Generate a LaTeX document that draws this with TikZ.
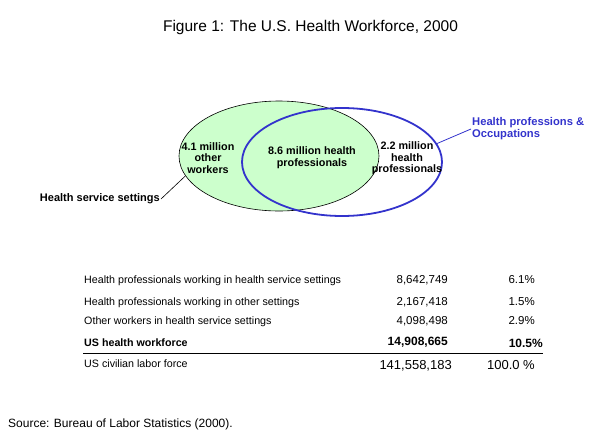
\documentclass[tikz,border=0pt]{standalone}
\usepackage{fontspec}
\setmainfont{Liberation Sans}
\usetikzlibrary{shapes.geometric}
\definecolor{setgreen}{HTML}{CCFFCC}
\definecolor{setblue}{HTML}{3333CC}

\begin{document}
\begin{tikzpicture}[x=1pt,y=-1pt,
  every node/.style={inner sep=1pt},
  settings/.style={ellipse,draw=black,line width=0.6pt,fill=setgreen,
    minimum width=200pt,minimum height=110pt,inner sep=0pt},
  occups/.style={ellipse,draw=setblue,line width=1.8pt,
    minimum width=200pt,minimum height=108pt,inner sep=0pt},
  vennlabel/.style={font=\fontsize{10.8}{11.5}\selectfont\bfseries,align=center},
  rowtext/.style={anchor=base west,font=\fontsize{10.7}{12}\selectfont},
  rownum/.style={anchor=base east,font=\fontsize{11.5}{13}\selectfont},
  rowbold/.style={anchor=base east,font=\fontsize{12}{14}\selectfont\bfseries},
  rowbig/.style={anchor=base east,font=\fontsize{13}{15}\selectfont}]
   \useasboundingbox (0,0) rectangle (607,447);

   % title
   \node[anchor=base,font=\fontsize{15.5}{18}\selectfont] (title) at (310.5,31)
     {Figure 1: The U.S. Health Workforce, 2000};

   % the two sets
   \node[settings] (hss) at (279,156) {};
   \node[occups] (hpo) at (342,162) {};

   \node[vennlabel] (other) at (208,158) {4.1 million\\other\\workers};
   \node[vennlabel] (both) at (312,157.5) {8.6 million health\\professionals};
   \node[vennlabel] (prof) at (407,158.5) {2.2 million\\health\\professionals};

   \node[font=\fontsize{11}{13}\selectfont\bfseries,anchor=east] (hsslabel) at (161,199)
     {Health service settings};
   \draw[line width=0.6pt] (hsslabel.east) -- (hss.192);

   \node[font=\fontsize{11.2}{12}\selectfont\bfseries,text=setblue,align=left,anchor=west]
     (hpolabel) at (471,129) {Health professions \&\\Occupations};
   \draw[setblue,line width=0.8pt] (hpolabel.west) -- (hpo.11);

   % table
   \node[rowtext] (r1) at (83,283) {Health professionals working in health service settings};
   \node[rownum] (n1) at (449,283) {8,642,749};
   \node[rownum] (p1) at (536,283) {6.1\%};

   \node[rowtext] (r2) at (83,305) {Health professionals working in other settings};
   \node[rownum] (n2) at (449,305) {2,167,418};
   \node[rownum] (p2) at (536,305) {1.5\%};

   \node[rowtext] (r3) at (83,324) {Other workers in health service settings};
   \node[rownum] (n3) at (449,324) {4,098,498};
   \node[rownum] (p3) at (536,324) {2.9\%};

   \node[rowtext,font=\fontsize{10.7}{12}\selectfont\bfseries] (r4) at (83,346) {US health workforce};
   \node[rowbold] (n4) at (449,345) {14,908,665};
   \node[rowbold] (p4) at (544,347) {10.5\%};

   \draw[line width=0.8pt] (83,353) -- (543,353);

   \node[rowtext] (r5) at (83,367) {US civilian labor force};
   \node[rowbig] (n5) at (453,369) {141,558,183};
   \node[rowbig] (p5) at (536,369) {100.0 \%};

   % source
   \node[anchor=base west,font=\fontsize{12}{14}\selectfont] (source) at (7,427)
     {Source: Bureau of Labor Statistics (2000).};
\end{tikzpicture}
\end{document}
